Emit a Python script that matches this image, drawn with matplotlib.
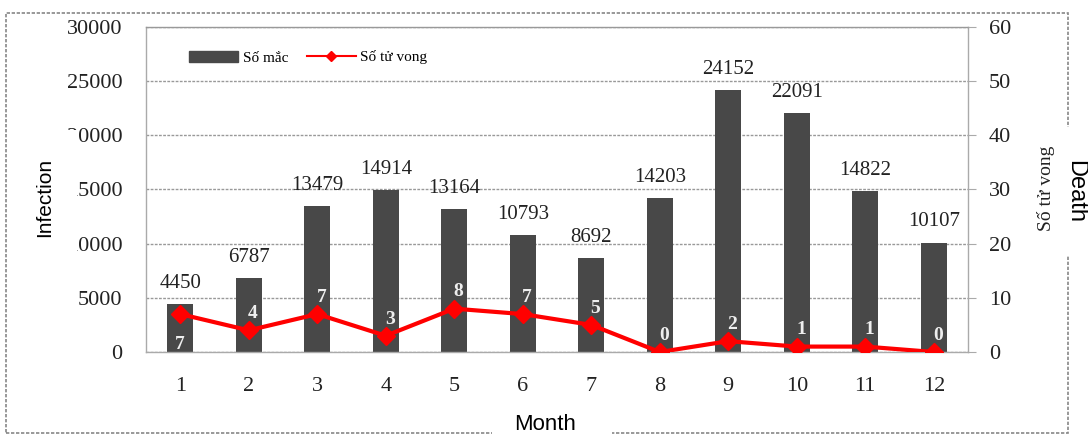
import matplotlib
matplotlib.use("Agg")
import matplotlib.pyplot as plt
from matplotlib.patches import Rectangle
from matplotlib.lines import Line2D
import numpy as np

months = ["1", "2", "3", "4", "5", "6", "7", "8", "9", "10", "11", "12"]
infections = [4450, 6787, 13479, 14914, 13164, 10793, 8692, 14203, 24152, 22091, 14822, 10107]
deaths = [7, 4, 7, 3, 8, 7, 5, 0, 2, 1, 1, 0]
left_ticks = [0, 5000, 10000, 15000, 20000, 25000, 30000]
right_ticks = [0, 10, 20, 30, 40, 50, 60]

W, H = 1088, 438
fig = plt.figure(figsize=(W / 100, H / 100), dpi=100)
serif = "Liberation Serif"
sans = "Liberation Sans"

def fx(px):
    return px / W

def fy(py):
    return 1 - py / H

L, R, T, B = 146, 968, 27, 352
ax = fig.add_axes([fx(L), fy(B), fx(R - L), (B - T) / H])
ax2 = ax.twinx()

x = np.arange(len(months))
ax.bar(x, infections, width=0.38, color="#484848", zorder=2, label="Số mắc")
ax.set_xlim(-0.5, len(months) - 0.5)
ax.set_ylim(0, 30000)
ax.set_yticks(left_ticks)
ax.set_yticklabels([str(v) for v in left_ticks], fontfamily=serif, fontsize=16, color="#222222")
ax.set_xticks(x)
ax.set_xticklabels(months, fontfamily=serif, fontsize=16, color="#222222")
ax.tick_params(axis="x", length=0, pad=18)
ax.tick_params(axis="y", length=0, pad=17)
ax.grid(axis="y", color="#999999", linestyle=(0, (2, 1)), linewidth=1, zorder=0)
ax.set_axisbelow(True)
for s in ["left", "bottom", "right", "top"]:
    ax.spines[s].set_color("#aaaaaa")
    ax.spines[s].set_linewidth(1)
ax.spines["top"].set_linestyle((0, (2, 1)))
ax.spines["top"].set_color("#999999")

for xi, v in zip(x, infections):
    ax.annotate(str(v), (xi, v), xytext=(0, 8), textcoords="offset points",
                ha="center", va="bottom", fontfamily=serif, fontsize=15, color="#222222")

ax2.set_ylim(0, 60)
ax2.set_yticks(right_ticks)
ax2.set_yticklabels([str(v) for v in right_ticks], fontfamily=serif, fontsize=16, color="#222222")
ax2.tick_params(axis="y", length=6, color="#aaaaaa", pad=9)
for s in ["left", "bottom", "right", "top"]:
    ax2.spines[s].set_visible(False)
ax2.plot(x, deaths, color="#ff0000", linewidth=3, marker="D", markersize=9,
         markeredgecolor="#ff0000", zorder=5, label="Số tử vong")
for i, (xi, d) in enumerate(zip(x, deaths)):
    off = (0, -22) if i == 0 else (3, 12)
    ax2.annotate(str(d), (xi, d), xytext=off, textcoords="offset points",
                 ha="center", va="center", fontfamily=serif, fontsize=14,
                 fontweight="bold", color="#eeeeee", zorder=6)

handles = [Rectangle((0, 0), 1, 1, color="#484848"),
           Line2D([0], [0], color="#ff0000", lw=1.5, marker="D", markersize=5)]
ax.legend(handles, ["Số mắc", "Số tử vong"], loc="upper left", bbox_to_anchor=(0.036, 0.97),
          ncol=2, frameon=False, prop={"family": serif, "size": 11}, handlelength=3.2,
          columnspacing=1.2, handletextpad=0.3)

# secondary axis title
fig.text(fx(1046), fy(188), "Số tử vong", rotation=90, ha="center", va="center",
         fontfamily=serif, fontsize=14, color="#222222")

# outer frame
fig.add_artist(Rectangle((fx(6), fy(433)), fx(1062), (433 - 13) / H, transform=fig.transFigure,
                         fill=False, edgecolor="#888888", linewidth=1.2, linestyle=(0, (2, 1)), zorder=0))

# white boxes behind overlay labels
for (x0, y0, x1, y1) in [(20, 130, 77, 262), (1058, 127, 1088, 256), (492, 414, 612, 438)]:
    fig.add_artist(Rectangle((fx(x0), fy(y1)), fx(x1 - x0), (y1 - y0) / H,
                             transform=fig.transFigure, facecolor="white",
                             edgecolor="none", zorder=9))

fig.text(fx(45), fy(197), "Infection", rotation=90, ha="center", va="center",
         fontfamily=sans, fontsize=15, color="black", zorder=10)
fig.text(fx(1075), fy(192), "Death", rotation=270, ha="center", va="center",
         fontfamily=sans, fontsize=17, color="black", zorder=10)
fig.text(fx(545), fy(424), "Month", ha="center", va="center",
         fontfamily=sans, fontsize=16, color="black", zorder=10)

fig.savefig("out.png", dpi=100)
